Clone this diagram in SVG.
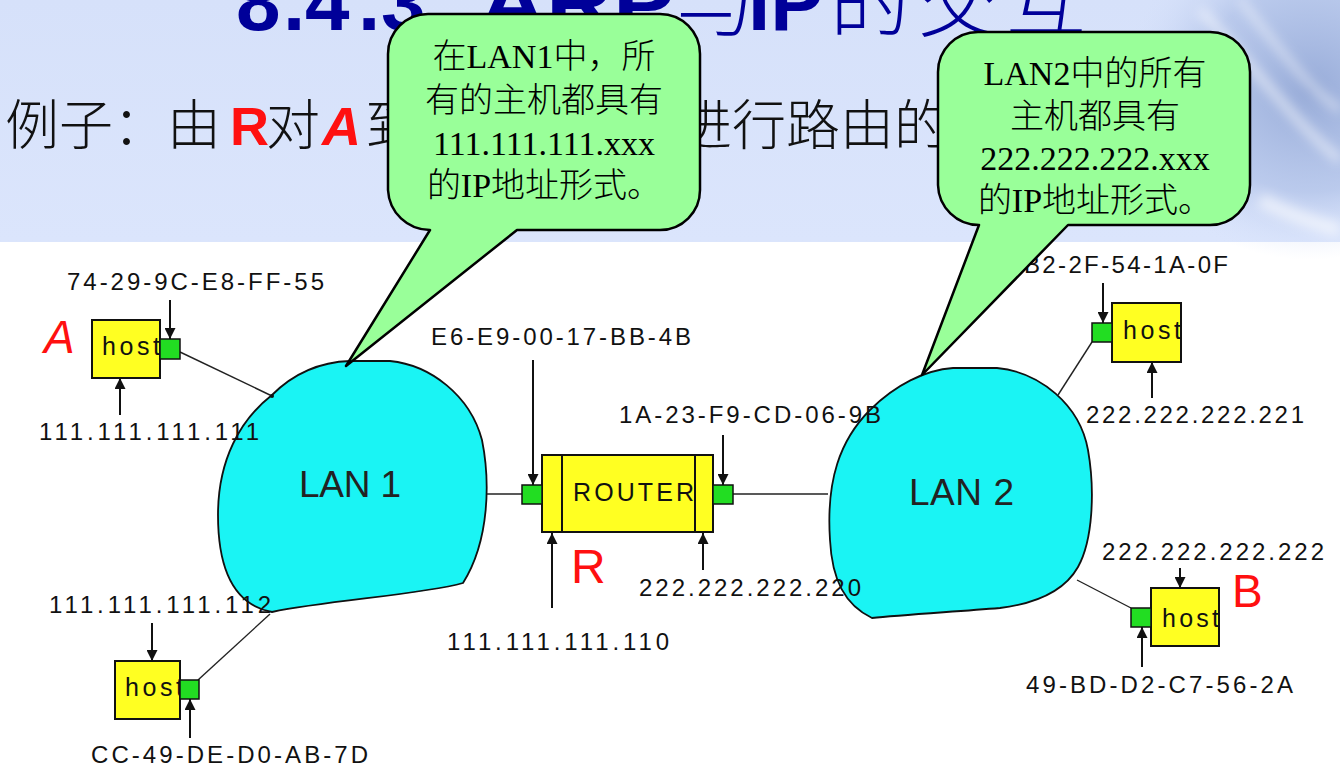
<svg xmlns="http://www.w3.org/2000/svg" width="1340" height="767" viewBox="0 0 1340 767">
<style>
.lbl{font-family:"Liberation Sans",Arial,sans-serif;font-size:24px;fill:#111}
.hosttxt{font-family:"Liberation Sans",Arial,sans-serif;font-size:25px;fill:#111}
.box{fill:#ffff22;stroke:#111;stroke-width:2}
.port{fill:#22dd22;stroke:#111;stroke-width:1.5}
.cloud{fill:#1af4f4;stroke:#111;stroke-width:1.8}
.lan{font-family:"Liberation Sans",Arial,sans-serif;font-size:37px;fill:#222}
.arr{stroke:#111;stroke-width:2;fill:none;marker-end:url(#ah)}
.link{stroke:#222;stroke-width:1.4;fill:none}
.red{font-family:"Liberation Sans",Arial,sans-serif;fill:#ff1010}
.bubble{fill:#99ff99;stroke:#000;stroke-width:2.5;stroke-linejoin:round}
.btxt{font-family:"Liberation Serif","Noto Sans CJK SC",serif;font-size:34px;fill:#000;text-anchor:middle;font-weight:300}
.title{font-family:"Liberation Sans","Noto Sans CJK SC",sans-serif;font-size:80px;fill:#000099}
.sub{font-family:"Liberation Sans","Noto Sans CJK SC",sans-serif;font-size:54px;fill:#111}
.cjk{font-family:"Noto Sans CJK SC",sans-serif;font-weight:300}
</style>
<defs>
<marker id="ah" viewBox="0 0 10 10" refX="10" refY="5" markerWidth="11" markerHeight="11" markerUnits="userSpaceOnUse" orient="auto"><path d="M0,0 L10,5 L0,10 Z" fill="#111"/></marker>
<linearGradient id="bg" x1="0" y1="0" x2="0" y2="1"><stop offset="0" stop-color="#d6e1fa"/><stop offset="1" stop-color="#dbe5fc"/></linearGradient>
<radialGradient id="swirl" cx="0.5" cy="0.5" r="0.5"><stop offset="0" stop-color="#97abd8"/><stop offset="0.6" stop-color="#adbfe6" stop-opacity="0.7"/><stop offset="1" stop-color="#d6e1fa" stop-opacity="0"/></radialGradient>
<filter id="blur"><feGaussianBlur stdDeviation="6"/></filter>
</defs>

<g id="background">
<rect x="0" y="0" width="1340" height="767" fill="#ffffff"/>
<rect x="0" y="0" width="1340" height="242" fill="url(#bg)"/>
<ellipse cx="1310" cy="90" rx="190" ry="170" fill="url(#swirl)"/>
<g filter="url(#blur)" stroke="#ffffff" stroke-opacity="0.6" fill="none">
<path d="M1200 10 C1250 60 1290 120 1340 160" stroke-width="8"/>
<path d="M1240 0 C1280 50 1310 90 1340 110" stroke-width="6"/>
<path d="M1260 200 C1290 215 1320 225 1340 230" stroke-width="14"/>
</g>
</g>

<g id="title">
<text class="title" y="30"><tspan x="236" font-weight="bold">8</tspan><tspan x="283" font-weight="bold">.</tspan><tspan x="305" font-weight="bold">4</tspan><tspan x="358" font-weight="bold">.</tspan><tspan x="381" font-weight="bold">3</tspan><tspan x="479" font-weight="bold" textLength="196" lengthAdjust="spacingAndGlyphs">ARP</tspan><tspan x="676" class="cjk">与</tspan><tspan x="748" font-weight="bold">IP</tspan><tspan x="830" class="cjk">的</tspan><tspan x="918" class="cjk">交</tspan><tspan x="1006" class="cjk">互</tspan></text>
</g>

<g id="subtitle">
<text class="sub" y="145"><tspan x="5" class="cjk">例子：由</tspan><tspan x="230" font-weight="bold" fill="#ff1010">R</tspan><tspan x="266" class="cjk">对</tspan><tspan x="322" font-weight="bold" font-style="italic" fill="#ff1010">A</tspan><tspan x="365" class="cjk">到</tspan><tspan x="678" class="cjk">进行路由的</tspan></text>
</g>

<g id="lan1">
<path class="cloud" d="M272 395 C295 372 320 362 350 361 L390 361 C430 365 470 395 482 440 C490 480 490 540 463 583 C420 595 330 600 272 612 C235 605 218 570 218 515 C218 460 240 420 272 395 Z"/>
<text class="lan" x="299" y="497" textLength="102">LAN 1</text>
</g>
<g id="lan2">
<path class="cloud" d="M953 368 L997 368 C1040 372 1080 405 1088 450 C1095 490 1093 540 1078 567 C1065 590 1040 603 1000 608 C950 612 900 615 872 618 C845 605 832 580 830 540 C826 480 840 440 870 410 C895 385 925 370 953 368 Z"/>
<text class="lan" x="909" y="505" textLength="105">LAN 2</text>
</g>

<g id="connectors">
<line class="link" x1="180" y1="352" x2="272" y2="396"/>
<line class="link" x1="198" y1="680" x2="270" y2="614"/>
<line class="link" x1="487" y1="494" x2="522" y2="494" stroke-width="2"/>
<line class="link" x1="733" y1="494" x2="828" y2="494" stroke-width="2"/>
<line class="link" x1="1092" y1="342" x2="1058" y2="395"/>
<line class="link" x1="1131" y1="608" x2="1077" y2="580"/>
<circle cx="272" cy="396" r="2" fill="#111"/>
<line class="arr" x1="170" y1="300" x2="170" y2="339"/>
<line class="arr" x1="120" y1="415" x2="120" y2="378"/>
<line class="arr" x1="533" y1="360" x2="533" y2="485"/>
<line class="arr" x1="723" y1="435" x2="723" y2="485"/>
<line class="arr" x1="552" y1="608" x2="552" y2="533"/>
<line class="arr" x1="703" y1="570" x2="703" y2="533"/>
<line class="arr" x1="152" y1="623" x2="152" y2="661"/>
<line class="arr" x1="190" y1="738" x2="190" y2="699"/>
<line class="arr" x1="1103" y1="283" x2="1103" y2="323"/>
<line class="arr" x1="1152" y1="398" x2="1152" y2="362"/>
<line class="arr" x1="1180" y1="568" x2="1180" y2="588"/>
<line class="arr" x1="1142" y1="667" x2="1142" y2="627"/>
</g>

<g id="hostA">
<rect class="box" x="92" y="320" width="68" height="58"/>
<text class="hosttxt" x="102" y="355" textLength="58">host</text>
<rect class="port" x="160" y="339" width="20" height="20"/>
<text class="lbl" x="67" y="290" textLength="257">74-29-9C-E8-FF-55</text>
<text class="lbl" x="39" y="440" textLength="220">111.111.111.111</text>
<text class="red" x="44" y="353" font-size="46" font-style="italic">A</text>
</g>

<g id="hostC">
<rect class="box" x="115" y="661" width="65" height="58"/>
<text class="hosttxt" x="125" y="696" textLength="58">host</text>
<rect class="port" x="180" y="680" width="19" height="19"/>
<text class="lbl" x="49" y="613" textLength="222">111.111.111.112</text>
<text class="lbl" x="91" y="763" textLength="277">CC-49-DE-D0-AB-7D</text>
</g>

<g id="router">
<rect class="box" x="542" y="455" width="171" height="77"/>
<line x1="562" y1="455" x2="562" y2="532" stroke="#111" stroke-width="2"/>
<line x1="695" y1="455" x2="695" y2="532" stroke="#111" stroke-width="2"/>
<text class="hosttxt" x="573" y="501" textLength="121">ROUTER</text>
<rect class="port" x="522" y="485" width="20" height="19"/>
<rect class="port" x="713" y="485" width="20" height="19"/>
<text class="lbl" x="431" y="345" textLength="260">E6-E9-00-17-BB-4B</text>
<text class="lbl" x="619" y="423" textLength="262">1A-23-F9-CD-06-9B</text>
<text class="lbl" x="639" y="596" textLength="222">222.222.222.220</text>
<text class="lbl" x="447" y="650" textLength="222">111.111.111.110</text>
<text class="red" x="571" y="583" font-size="48">R</text>
</g>

<g id="hostB2">
<rect class="box" x="1112" y="303" width="69" height="59"/>
<text class="hosttxt" x="1123" y="339" textLength="58">host</text>
<rect class="port" x="1092" y="323" width="20" height="19"/>
<text class="lbl" x="1024" y="273" textLength="204">B2-2F-54-1A-0F</text>
<text class="lbl" x="1086" y="423" textLength="218">222.222.222.221</text>
</g>

<g id="hostB">
<rect class="box" x="1151" y="588" width="68" height="58"/>
<text class="hosttxt" x="1162" y="627" textLength="57">host</text>
<rect class="port" x="1131" y="608" width="20" height="19"/>
<text class="lbl" x="1102" y="560" textLength="222">222.222.222.222</text>
<text class="lbl" x="1026" y="693" textLength="267">49-BD-D2-C7-56-2A</text>
<text class="red" x="1232" y="607" font-size="46">B</text>
</g>

<g id="bubble1">
<path class="bubble" d="M428 14 H660 A40 40 0 0 1 700 54 V190 A40 40 0 0 1 660 230 H517 L346 366 L430 230 A42 42 0 0 1 388 190 V54 A40 40 0 0 1 428 14 Z"/>
<text class="btxt" x="544" y="68">在LAN1中，所</text>
<text class="btxt" x="544" y="112">有的主机都具有</text>
<text class="btxt" x="544" y="155">111.111.111.xxx</text>
<text class="btxt" x="544" y="197">的IP地址形式。</text>
</g>

<g id="bubble2">
<path class="bubble" d="M978 32 H1210 A40 40 0 0 1 1250 72 V185 A40 40 0 0 1 1210 225 H1068 L922 375 L979 225 A41 41 0 0 1 938 185 V72 A40 40 0 0 1 978 32 Z"/>
<text class="btxt" x="1095" y="85">LAN2中的所有</text>
<text class="btxt" x="1095" y="128">主机都具有</text>
<text class="btxt" x="1095" y="170">222.222.222.xxx</text>
<text class="btxt" x="1095" y="212">的IP地址形式。</text>
</g>
</svg>
